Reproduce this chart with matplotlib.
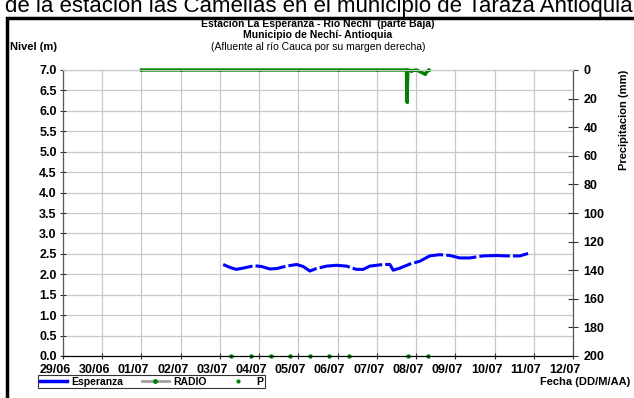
import matplotlib
matplotlib.use('Agg')
import matplotlib.pyplot as plt
import matplotlib.dates as mdates
import matplotlib.transforms as mtransforms
from matplotlib.lines import Line2D
from matplotlib.patches import Rectangle
import pandas as pd

plt.rcParams['font.family'] = ['Liberation Sans', 'DejaVu Sans']
plt.rcParams['font.size'] = 8

# nivel Esperanza (m)
esp_time = ['2011-07-03 02:00', '2011-07-03 06:00', '2011-07-03 10:00', '2011-07-03 14:00',
            '2011-07-03 21:00', '2011-07-04 01:30', '2011-07-04 06:30', '2011-07-04 10:40',
            '2011-07-04 16:45', '2011-07-04 22:50', '2011-07-05 03:00', '2011-07-05 07:00',
            '2011-07-05 11:00', '2011-07-05 17:15', '2011-07-05 23:20', '2011-07-06 05:30',
            '2011-07-06 11:30', '2011-07-06 15:40', '2011-07-06 19:40', '2011-07-07 03:50',
            '2011-07-07 08:00', '2011-07-07 10:00', '2011-07-07 14:00', '2011-07-07 20:10',
            '2011-07-08 02:20', '2011-07-08 08:20', '2011-07-08 14:30', '2011-07-08 20:40',
            '2011-07-09 02:45', '2011-07-09 08:50', '2011-07-09 17:00', '2011-07-10 01:10',
            '2011-07-10 07:20', '2011-07-10 15:30', '2011-07-10 20:30']
esp_nivel = [2.24, 2.17, 2.12, 2.15, 2.21, 2.19, 2.13, 2.14, 2.20, 2.24, 2.19, 2.08,
             2.14, 2.20, 2.22, 2.20, 2.12, 2.12, 2.20, 2.24, 2.24, 2.10, 2.15, 2.25,
             2.32, 2.45, 2.48, 2.46, 2.40, 2.40, 2.45, 2.46, 2.45, 2.45, 2.51]

# RADIO (precipitacion, mm)
radio_time = ['2011-07-01 00:00', '2011-07-02 00:00', '2011-07-03 00:00', '2011-07-04 00:00',
              '2011-07-05 00:00', '2011-07-06 00:00', '2011-07-07 00:00', '2011-07-07 18:10',
              '2011-07-07 18:20', '2011-07-07 19:00', '2011-07-07 21:10', '2011-07-08 00:15',
              '2011-07-08 05:20', '2011-07-08 07:50']
radio_mm = [0, 0, 0, 0, 0, 0, 0, 0, 22.4, 0, 0.5, 0, 2.8, 0]

# P
p_time = ['2011-07-03 07:00', '2011-07-03 19:00', '2011-07-04 07:00', '2011-07-04 19:00',
          '2011-07-05 07:00', '2011-07-05 19:00', '2011-07-06 07:00', '2011-07-07 19:00',
          '2011-07-08 07:00']
p_val = [0, 0, 0, 0, 0, 0, 0, 0, 0]

fig = plt.figure(figsize=(6.34, 3.98), dpi=100)
ax = fig.add_axes([63 / 634, 1 - 356 / 398, 510 / 634, 286 / 398])
ax2 = ax.twinx()

verde = '#008000'
ax.plot(pd.to_datetime(esp_time), esp_nivel, color='#0000ff', lw=2.2, dashes=(10, 1), zorder=3)
ax.plot(pd.to_datetime(p_time), p_val, ls='none', marker='o', ms=2.2, color=verde, clip_on=False, zorder=4)
ax2.plot(pd.to_datetime(radio_time), radio_mm, color=verde, lw=2.4, marker='o', ms=1.2, clip_on=False)

ax.set_xlim(pd.Timestamp('2011-06-29'), pd.Timestamp('2011-07-12'))
ax.set_ylim(0, 7)
ax.set_yticks([i * 0.5 for i in range(15)])
ax.set_yticklabels(['%.1f' % (i * 0.5) for i in range(15)], fontweight='bold')
ax.xaxis.set_major_locator(mdates.DayLocator())
ax.xaxis.set_major_formatter(mdates.DateFormatter('%d/%m'))
ax.grid(True, color='#c8c8c8', lw=0.9)
ax.set_axisbelow(True)
ax.tick_params(axis='both', direction='inout', length=5, width=0.8, colors='#333333', labelcolor='black',
               pad=2, labelsize=9)
ax.tick_params(axis='x', pad=3)
shift = mtransforms.ScaledTranslation(-8 / 100, 0, fig.dpi_scale_trans)
for t in ax.get_xticklabels():
    t.set_fontweight('bold')
    t.set_transform(t.get_transform() + shift)

ax2.set_ylim(200, 0)
ax2.set_yticks(range(0, 201, 20))
ax2.set_yticklabels([str(v) for v in range(0, 201, 20)], fontweight='bold')
ax2.tick_params(axis='y', direction='inout', length=7, width=0.8, colors='#333333', labelcolor='black',
                pad=4, labelsize=9)
ax2.set_ylabel('Precipitacion (mm)', fontweight='bold')
ax2.yaxis.set_label_coords(1.09, 0.825)

for a in (ax, ax2):
    a.spines['top'].set_color('#c8c8c8')
    a.spines['left'].set_color('#555555')
    a.spines['right'].set_color('#555555')
    a.spines['bottom'].set_color('black')

fig.text(318 / 634, 1 - 24 / 398, 'Estación La Esperanza - Rio Nechí  (parte Baja)', ha='center', va='center',
         fontsize=7.5, fontweight='bold')
fig.text(318 / 634, 1 - 35 / 398, 'Municipio de Nechí- Antioquia', ha='center', va='center',
         fontsize=7.5, fontweight='bold')
fig.text(318 / 634, 1 - 47 / 398, '(Afluente al río Cauca por su margen derecha)', ha='center', va='center',
         fontsize=7.5)
fig.text(10 / 634, 1 - 47 / 398, 'Nivel (m)', ha='left', va='center', fontsize=8, fontweight='bold')
fig.text(630 / 634, 1 - 382 / 398, 'Fecha (DD/M/AA)', ha='right', va='center', fontsize=8, fontweight='bold')

# texto del documento cortado arriba
fig.text(5 / 634, 1 - 12 / 398, 'de la estación las Camelias en el municipio de Tarazá Antioquia',
         ha='left', va='baseline', fontsize=16)
fig.patches.append(Rectangle((7 / 634, -0.1), 1.0, 1 - 18 / 398 + 0.1, transform=fig.transFigure,
                             fill=False, edgecolor='black', lw=2.5, zorder=10))

handles = [Line2D([], [], color='#0000ff', lw=2.5),
           Line2D([], [], color='#a0a0a0', lw=2, marker='o', ms=2.5, mfc=verde, mec=verde),
           Line2D([], [], ls='none', marker='o', ms=2, color=verde)]
leg = fig.legend(handles, ['Esperanza', 'RADIO', 'P'], loc='upper left', ncol=3,
                 bbox_to_anchor=(38 / 634, 1 - 375 / 398), frameon=True, fancybox=False,
                 edgecolor='black', fontsize=7.5, handlelength=2.6, columnspacing=1.8,
                 borderpad=0.15, handletextpad=0.4, borderaxespad=0)
leg.get_frame().set_linewidth(0.8)
for t in leg.get_texts():
    t.set_fontweight('bold')

fig.savefig('out.png', dpi=100)
